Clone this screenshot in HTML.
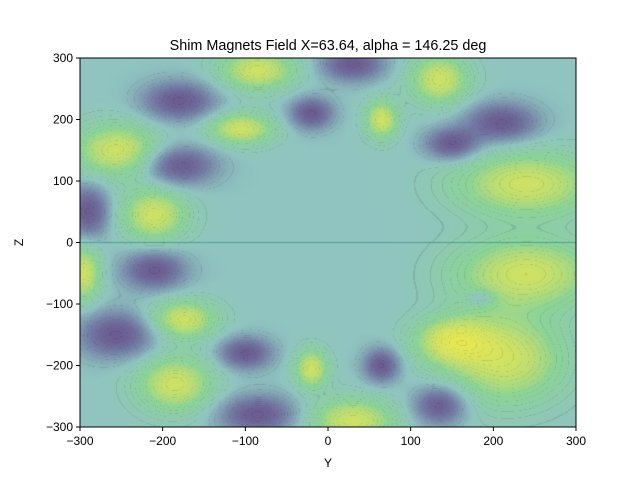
<!DOCTYPE html>
<html><head><meta charset="utf-8"><style>
body{margin:0;background:#fff;font-family:"Liberation Sans","DejaVu Sans",sans-serif;}
#wrap{position:relative;width:640px;height:480px;}
canvas{position:absolute;left:80px;top:58px;}
svg{position:absolute;left:0;top:0;}
</style></head><body>
<div id="wrap">
<canvas id="cv" width="496" height="369"></canvas>
<svg id="ax" width="640" height="480"></svg>
</div>
<script>
// blob data: Y center, Z center, amplitude sign, Y radius, Z radius (data units)
const blobY = [-85,135,-105,65,-255,-210,-295,240,240,-175,-185,-20,30,150,215, 30,-180,-20,-180,-290,210,150,-210,-255,-100,-85,65,135,185];
const blobZ = [280,265,185,200,150,45,-50,95,-50,-125,-230,-205,-290,-160,-190, 290,230,210,125,50,195,160,-45,-150,-180,-280,-200,-265,-90];
const blobA = [1,1,1,1,1,1,1,1,1,1,1,1,1,1,1, -0.9,-0.9,-0.9,-0.9,-0.9,-0.9,-0.9,-0.9,-0.9,-0.9,-0.9,-0.9,-0.9,-0.5];
const blobRY = [32,25,28,14,36,28,14,60,60,28,32,14,36,32,50, 26,30,18,30,18,30,22,26,32,22,32,15,22,12];
const blobRZ = [23,28,18,22,30,30,32,36,40,22,32,22,26,26,50, 19,22,18,22,30,22,18,22,26,18,22,19,22,8];
const xTicks = [-300,-200,-100,0,100,200,300];
const yTicks = [-300,-200,-100,0,100,200,300];

const L=80,T=58,W=496,H=369;
const sx=v=>L+(v+300)/600*W, sy=v=>T+(300-v)/600*H;
const stops=[[-1,[100,60,125]],[-0.5,[115,125,165]],[0,[143,196,192]],[0.5,[140,212,150]],[1,[248,234,70]]];
function col(f){f=Math.max(-1,Math.min(1,f));for(let i=0;i<stops.length-1;i++){const a=stops[i],b=stops[i+1];if(f<=b[0]){const t=(f-a[0])/(b[0]-a[0]);return a[1].map((c,k)=>c+(b[1][k]-c)*t);}}return stops[4][1];}
const cv=document.getElementById('cv'),ctx=cv.getContext('2d'),img=ctx.createImageData(W,H);
for(let py=0;py<H;py++){const z=300-(py+0.5)/H*600;for(let px=0;px<W;px++){const y=-300+(px+0.5)/W*600;let f=0;
for(let i=0;i<blobY.length;i++){const dy=(y-blobY[i])/blobRY[i],dz=(z-blobZ[i])/blobRZ[i];f+=blobA[i]*Math.exp(-0.5*(dy*dy+dz*dz));}
let g=Math.tanh(f*1.1);
const band=Math.abs(Math.sin(f*40));let c=col(g);
if(Math.abs(f)>0.05&&band<0.12){c=c.map(v=>v*0.9);}
const o=(py*W+px)*4;img.data[o]=c[0];img.data[o+1]=c[1];img.data[o+2]=c[2];img.data[o+3]=255;}}
ctx.putImageData(img,0,0);
ctx.strokeStyle='rgba(60,150,140,0.8)';ctx.lineWidth=1;ctx.beginPath();ctx.moveTo(0,H/2);ctx.lineTo(W,H/2);ctx.stroke();

const NS='http://www.w3.org/2000/svg',svg=document.getElementById('ax');
function mk(t,a,txt){const e=document.createElementNS(NS,t);for(const k in a)e.setAttribute(k,a[k]);if(txt!=null)e.textContent=txt;svg.appendChild(e);return e;}
const fr=mk('rect',{x:L,y:T,width:W,height:H,fill:'none',stroke:'#000','stroke-width':1});


xTicks.forEach(v=>{const x=sx(v);const l=mk('line',{x1:x,x2:x,y1:T+H,y2:T+H+4,stroke:'#000'});


const t=mk('text',{x:x,y:T+H+18,'font-size':12,'text-anchor':'middle'},(v<0?'\u2212'+(-v):v));

});
yTicks.forEach(v=>{const y=sy(v);const l=mk('line',{x1:L-4,x2:L,y1:y,y2:y,stroke:'#000'});


const t=mk('text',{x:L-7,y:y+4,'font-size':12,'text-anchor':'end'},(v<0?'\u2212'+(-v):v));

});
const xt=mk('text',{x:L+W/2,y:467,'font-size':12,'text-anchor':'middle'},'Y');


const yt=mk('text',{x:23,y:T+H/2,'font-size':12,'text-anchor':'middle',transform:`rotate(-90 23 ${T+H/2})`},'Z');


const tt=mk('text',{x:L+W/2,y:50,'font-size':14.4,'text-anchor':'middle'},'Shim Magnets Field X=63.64, alpha = 146.25 deg');


</script>
</body></html>
